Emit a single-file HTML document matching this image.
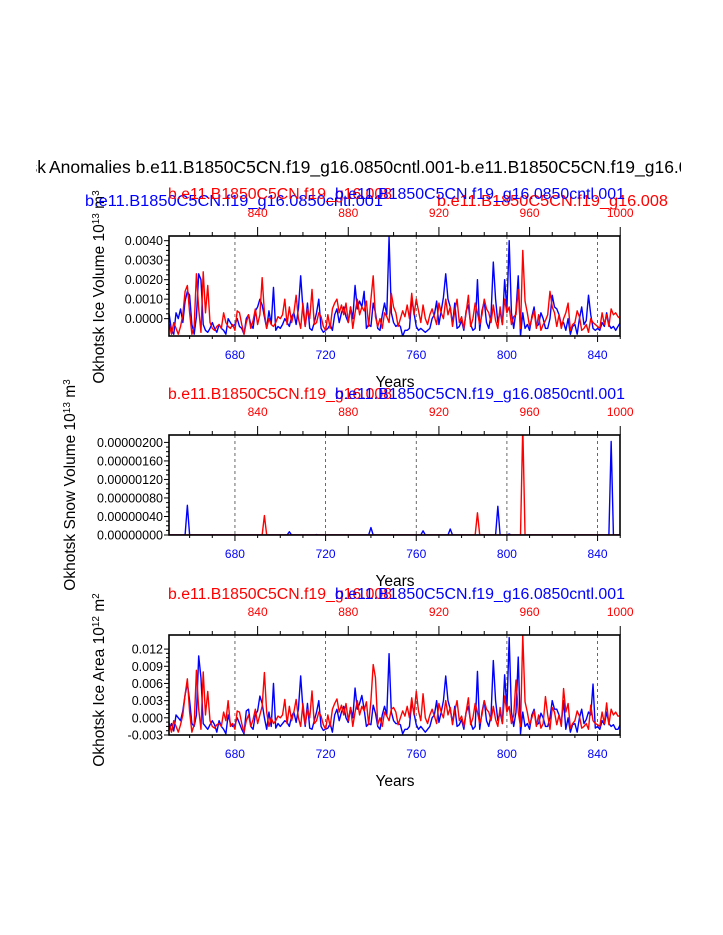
<!DOCTYPE html>
<html><head><meta charset="utf-8"><style>
html,body{margin:0;padding:0;background:#fff;}
svg{display:block;font-family:"Liberation Sans",Arial,sans-serif;}
</style></head><body>
<svg id="chart" width="723" height="935" viewBox="0 0 723 935" xmlns="http://www.w3.org/2000/svg">
<rect width="723" height="935" fill="#fff"/>
<clipPath id="title-clip"><rect x="36" y="140" width="645" height="50"/></clipPath>
<g clip-path="url(#title-clip)">
<text x="46" y="173" font-size="17.5" text-anchor="end">Okhotsk</text>
<text x="49" y="173" font-size="17.5">Anomalies b.e11.B1850C5CN.f19_g16.0850cntl.001-b.e11.B1850C5CN.f19_g16.008</text>
</g>
<g id="panels"></g>
</svg>
<script>
// Years (blue = control, bottom axis; red = experiment, top axis offset by +150)
const blueYears = []; for (let y = 650; y <= 850; y++) blueYears.push(y);
const redOffset = 150;
const bottomTicks = [680, 720, 760, 800, 840];
const topTicks = [840, 880, 920, 960, 1000];

// Ice volume anomalies (x 1e-3, 10^13 m^3)
const iceVolBlue = [
-0.5,0.2,-0.6,-0.8,0.3,0.0,0.5,-0.2,0.9,1.4,
1.2,-0.3,-0.8,0.1,2.3,2.0,-0.3,-0.6,-0.7,-0.5,
-0.2,-0.5,-0.7,-0.3,-0.5,-0.6,-0.8,0.0,-0.2,-0.4,
-0.3,0.0,-0.4,-0.5,-0.8,0.0,0.2,-0.3,-0.5,0.4,
0.6,1.0,0.7,0.1,-0.5,0.4,-0.3,1.6,-0.6,-0.4,
-0.5,-0.3,0.0,-0.2,-0.4,0.1,0.3,-0.3,0.5,2.2,
0.5,-0.4,0.8,-0.5,-0.6,-0.2,0.3,1.0,-0.5,-0.7,
-0.6,-0.5,-0.3,-0.6,0.2,0.5,-0.2,0.3,0.6,0.1,
-0.2,0.6,0.0,1.7,0.5,0.9,0.6,1.4,-0.5,-0.3,
-0.4,0.8,0.3,-0.5,-0.6,0.2,0.8,0.2,4.2,0.3,
-0.2,-0.4,-0.3,-0.4,-0.9,-0.6,-0.6,-0.5,1.0,0.3,
-0.4,-0.6,-0.5,-0.6,-0.7,-0.6,-0.5,0.0,0.2,0.9,
-0.3,0.4,1.1,2.3,1.0,0.6,-0.3,0.8,-0.5,-0.4,
-0.1,-0.6,0.4,0.7,-0.3,-0.6,-0.5,2.0,-0.6,0.4,
0.9,-0.2,-0.5,0.2,2.9,1.0,-0.2,0.4,-0.3,2.0,
0.5,4.0,0.3,-0.5,0.4,2.2,-0.9,0.3,-0.5,-0.3,
-0.6,0.1,0.6,-0.4,-0.3,0.3,0.0,-0.5,-0.5,0.0,
1.2,0.6,0.5,0.2,-0.3,-0.2,-0.6,0.0,-0.8,-0.4,
-0.3,-0.8,0.0,0.6,-0.3,-0.1,1.2,0.2,-0.5,-0.6,
-0.5,-0.6,-0.2,-0.4,0.3,-0.3,-0.5,-0.4,-0.6,-0.4,-0.2];
const iceVolRed = [
-0.6,-0.3,-0.8,-0.2,-0.5,-0.8,-0.4,0.2,1.4,1.7,
0.3,-0.8,-0.4,2.3,0.5,-0.7,2.4,0.3,1.7,-0.2,
-0.5,-0.6,-0.4,-0.3,-0.5,0.3,-0.2,-0.4,-0.5,-0.3,
-0.6,0.4,0.3,-0.3,-0.8,-0.2,0.2,-0.5,-0.1,0.5,
-0.3,0.2,2.1,0.3,-0.5,0.0,-0.3,-0.4,-0.2,0.1,
0.0,0.2,1.0,-0.3,0.6,-0.2,0.3,1.2,0.0,-0.5,
0.8,-0.4,0.5,0.0,1.5,-0.3,-0.2,0.3,0.1,-0.4,
-0.6,0.2,-0.5,0.5,0.8,1.0,0.3,0.7,0.2,0.8,
-0.2,0.6,-0.5,0.3,1.0,0.2,0.6,0.4,0.9,-0.4,
1.0,2.2,0.1,-0.4,0.0,-0.5,0.3,0.1,-0.2,1.3,
0.6,0.3,-0.4,0.0,0.4,0.1,0.7,0.0,1.3,0.2,
1.0,0.4,-0.2,0.7,0.0,-0.3,0.2,0.5,0.1,-0.3,
0.8,0.3,0.0,1.0,0.2,0.6,-0.4,0.4,1.0,-0.2,
0.1,-0.5,0.3,1.2,-0.4,0.0,0.8,0.3,-0.3,0.2,
1.0,0.5,0.3,-0.2,0.7,-0.1,-0.5,0.6,-0.3,1.0,
0.3,0.6,-0.3,0.1,0.2,1.5,-0.5,3.5,0.9,0.3,
-0.4,0.0,0.4,-0.5,0.2,-0.6,-0.3,-0.1,0.2,1.4,
0.6,0.3,-0.4,0.2,-0.5,0.0,0.3,0.8,-0.6,-0.3,
-0.2,0.4,0.1,-0.6,-0.5,-0.3,-0.7,0.0,-0.2,-0.3,
-0.4,-0.5,0.3,-0.3,0.2,-0.4,0.5,0.2,0.3,0.1,0.0];

// Snow volume spikes (x 1e-7, 10^13 m^3); zero elsewhere
const snowBlueYears = [659, 704, 716, 740, 763, 775, 796, 801, 846];
const snowBlueVals  = [6.4, 0.7, 0.1, 1.6, 0.9, 1.3, 6.2, 0.2, 20.2];
const snowRedYears  = [843, 937, 957];   // experiment years (top axis)
const snowRedVals   = [4.2, 4.8, 23.5];

// Ice area anomalies (x 1e-3, 10^12 m^2)
const iceAreaBlue = [
0.0,-2.0,-1.0,-2.3,0.5,0.0,-0.5,1.2,4.0,6.0,
3.0,-1.0,-1.5,0.5,10.8,7.0,-1.0,-1.5,-2.0,-1.2,
-0.5,-1.2,-2.5,-0.5,-1.5,-2.0,-2.8,0.5,-1.0,-1.5,
-1.2,0.0,-1.0,-2.0,-2.8,1.2,1.5,-1.5,-2.0,0.5,
1.2,3.8,2.5,0.0,-2.0,1.0,-1.5,6.0,-1.8,-1.0,
-1.5,-1.0,-0.5,-0.8,-1.5,0.3,1.0,-0.8,1.5,7.3,
1.5,-1.5,2.5,-1.8,-2.0,-0.5,1.0,3.0,-1.5,-2.2,
-2.0,-1.8,-1.0,-2.5,0.5,1.5,-0.5,1.0,2.0,0.0,
-0.8,1.8,0.0,5.2,1.5,2.5,3.9,1.5,-1.5,-1.0,
-1.2,2.2,0.8,-1.5,-2.0,0.5,2.0,0.5,11.2,1.0,
-0.5,-1.0,-1.0,-1.2,-2.8,-2.0,-2.0,-1.5,2.8,0.8,
-1.2,-2.0,-1.5,-2.0,-2.5,-2.0,-1.5,0.0,0.5,3.0,
-0.8,1.0,3.0,7.3,3.0,1.5,-1.0,2.0,-1.5,-1.2,
-0.3,-2.0,1.0,2.0,-0.8,-2.0,-1.5,8.1,-2.0,1.0,
3.0,-0.5,-1.5,0.5,10.0,3.0,-0.5,1.0,-1.0,7.5,
1.5,14.0,1.0,-1.5,1.0,10.6,-2.8,1.0,-1.5,-1.0,
-2.0,0.5,1.5,-1.2,-1.0,0.8,0.0,-1.5,-1.5,0.0,
3.0,1.5,1.5,0.5,-1.0,3.0,-2.0,0.0,-2.5,-1.2,
-1.0,-2.5,0.0,1.5,-1.0,-0.3,1.0,0.5,5.9,-1.8,
-1.5,-2.0,-0.5,-1.2,1.0,-1.0,-1.5,-1.2,-2.0,-2.0,-1.2];
const iceAreaRed = [
-2.5,-1.0,-2.5,-0.5,-1.5,-2.5,-1.2,0.5,4.0,6.8,
1.0,-2.5,-1.2,8.3,1.5,-2.0,8.0,0.5,4.6,-0.5,
-1.5,-1.8,-1.2,-1.0,-1.5,1.0,-0.5,3.0,-1.5,-1.0,
-2.0,1.2,1.0,-1.0,-2.5,-0.5,0.5,-1.5,-0.3,1.5,
-1.0,0.5,2.0,7.9,1.0,-1.5,0.0,-1.0,-0.5,0.3,
0.0,0.5,3.2,-1.0,2.0,-0.5,1.0,3.2,0.0,-1.5,
2.5,-1.2,1.5,0.0,4.7,-1.0,-0.5,1.0,0.3,-1.2,
-2.0,0.5,-1.5,1.5,2.5,3.3,1.0,2.2,0.5,2.5,
-0.5,1.8,-1.5,1.0,3.0,0.5,2.0,1.2,2.8,-1.2,
3.0,9.3,7.0,-1.2,0.0,-1.5,1.0,0.3,-0.5,1.5,
1.8,1.0,-1.2,0.0,1.2,0.3,2.0,0.0,3.5,0.5,
4.6,1.2,-0.5,4.2,0.0,-1.0,0.5,1.5,0.3,-1.0,
2.5,1.0,0.0,3.0,0.5,1.8,-1.2,1.2,3.0,-0.5,
0.3,-1.5,1.0,3.5,-1.2,0.0,2.5,1.0,-1.0,0.5,
3.0,1.5,1.0,-0.5,2.0,-0.3,-1.5,1.8,-1.0,3.8,
1.0,2.0,-1.0,0.5,6.6,1.0,-1.5,14.5,2.8,1.0,
-1.2,0.0,1.2,-1.5,0.5,-1.8,-1.0,3.7,0.5,-2.0,
1.8,1.0,-1.2,0.5,-1.5,5.1,1.0,2.5,-1.8,-1.0,
-0.5,1.2,0.3,-1.8,-1.5,-1.0,-2.0,2.2,-0.5,-1.0,
-1.2,-1.5,1.0,-1.0,2.6,-1.2,1.5,0.5,1.0,0.3,0.3];

const volTicks = [0, 1, 2, 3, 4];
const volTickLabels = ["0.0000","0.0010","0.0020","0.0030","0.0040"];
const snowTicks = [0, 4, 8, 12, 16, 20];
const snowTickLabels = ["0.00000000","0.00000040","0.00000080","0.00000120","0.00000160","0.00000200"];
const areaTicks = [-3, 0, 3, 6, 9, 12];
const areaTickLabels = ["-0.003","0.000","0.003","0.006","0.009","0.012"];

const NS = "http://www.w3.org/2000/svg";
const root = document.getElementById("panels");
function el(tag, attrs, parent) {
  const e = document.createElementNS(NS, tag);
  for (const k in attrs) e.setAttribute(k, attrs[k]);
  (parent || root).appendChild(e);
  return e;
}
const X0 = 169, X1 = 620, YR0 = 650.9, YR1 = 849.9;
function xScale(yr) { return X0 + (yr - YR0) / (YR1 - YR0) * (X1 - X0); }

function panel(cfg) {
  const g = el("g", {});
  
  
  const yS = v => cfg.bot - (v - cfg.vmin) / (cfg.vmax - cfg.vmin) * (cfg.bot - cfg.top);
  const cid = "clip-" + cfg.name;
  const cp = el("clipPath", { id: cid }, g);
  el("rect", { x: X0, y: cfg.top, width: X1 - X0, height: cfg.bot - cfg.top }, cp);
  bottomTicks.forEach(t => {
    const l = el("line", { x1: xScale(t), x2: xScale(t), y1: cfg.top, y2: cfg.bot, stroke: "#444", "stroke-width": 0.8, "stroke-dasharray": "3,3" }, g);
    
    
  });
  const sg = el("g", { "clip-path": "url(#" + cid + ")" }, g);
  cfg.series.forEach(s => {
    let d = "";
    s.vals.forEach((v, i) => { d += (i ? "L" : "M") + xScale(s.years[i]).toFixed(2) + "," + yS(v).toFixed(2); });
    const p = el("path", { d: d, fill: "none", stroke: s.color, "stroke-width": 1.4, "stroke-linejoin": "round" }, sg);
    
    
  });
  const box = el("rect", { x: X0, y: cfg.top, width: X1 - X0, height: cfg.bot - cfg.top, fill: "none", stroke: "#000", "stroke-width": 1.6 }, g);
  
  
  for (let yr = 660; yr <= 850; yr += 10) {
    const maj = bottomTicks.includes(yr);
    el("line", { x1: xScale(yr), x2: xScale(yr), y1: cfg.bot, y2: cfg.bot + (maj ? 6 : 3), stroke: "#000", "stroke-width": 1 }, g);
  }
  bottomTicks.forEach(t => {
    const tx = el("text", { x: xScale(t), y: cfg.bot + 23, "font-size": 12, fill: "#0000ff", "text-anchor": "middle" }, g);
    tx.textContent = t;
    
    
  });
  for (let yr = 810; yr <= 1000; yr += 10) {
    const maj = topTicks.includes(yr);
    const xx = xScale(yr - redOffset);
    el("line", { x1: xx, x2: xx, y1: cfg.top, y2: cfg.top - (maj ? 9 : 4), stroke: "#000", "stroke-width": 1 }, g);
  }
  topTicks.forEach(t => {
    const tx = el("text", { x: xScale(t - redOffset), y: cfg.top - 19, "font-size": 12, fill: "#ff0000", "text-anchor": "middle" }, g);
    tx.textContent = t;
    
    
  });
  cfg.ticks.forEach((t, i) => {
    el("line", { x1: X0, x2: X0 - 5, y1: yS(t), y2: yS(t), stroke: "#000", "stroke-width": 1 }, g);
    const tx = el("text", { x: X0 - 6, y: yS(t) + 4.5, "font-size": 12.5, "text-anchor": "end" }, g);
    tx.textContent = cfg.labels[i];
    
    
  });
  for (let i = 0; i + 1 < cfg.ticks.length; i++) {
    const step = (cfg.ticks[i + 1] - cfg.ticks[i]) / 4;
    for (let k = 1; k < 4; k++) {
      const v = cfg.ticks[i] + step * k;
      el("line", { x1: X0, x2: X0 - 3, y1: yS(v), y2: yS(v), stroke: "#000", "stroke-width": 1 }, g);
    }
  }
  const xt = el("text", { x: 395, y: cfg.bot + 51, "font-size": 15.5, "text-anchor": "middle" }, g);
  xt.textContent = "Years";
  
  
  const yt = el("text", { transform: "translate(" + cfg.ytx + "," + cfg.ytY + ") rotate(-90)", "font-size": 15.5, "text-anchor": "middle" }, g);
  yt.innerHTML = cfg.ytitle;
  
  
  cfg.subs.forEach(s => {
    const t = el("text", { x: s.x, y: s.y, "font-size": 15.5, fill: s.c, textLength: s.w, lengthAdjust: "spacingAndGlyphs" }, g);
    t.textContent = s.t;
    
    
  });
}
const B = "b.e11.B1850C5CN.f19_g16.0850cntl.001", R = "b.e11.B1850C5CN.f19_g16.008";
const redYears = blueYears.slice();
function spikes(years, vals, shift) {
  const out = blueYears.map(() => 0);
  years.forEach((y, i) => { const idx = y - shift - 650; if (idx >= 0 && idx < out.length) out[idx] = vals[i]; });
  return out;
}
panel({ name: "ice-volume-panel", top: 236, bot: 336, vmin: -0.89, vmax: 4.24,
  ticks: volTicks, labels: volTickLabels,
  ytitle: 'Okhotsk Ice Volume 10<tspan baseline-shift="super" font-size="10">13</tspan> m<tspan baseline-shift="super" font-size="10">3</tspan>', ytx: 104, ytY: 287,
  series: [{ name: "ice-volume-control-line", color: "#0000ff", years: blueYears, vals: iceVolBlue },
           { name: "ice-volume-experiment-line", color: "#ff0000", years: redYears, vals: iceVolRed }],
  subs: [{ x: 85, y: 206, t: B, c: "#0000ff", w: 298, n: "control-subtitle-left" },
         { x: 437, y: 206, t: R, c: "#ff0000", w: 231, n: "experiment-subtitle-right" },
         { x: 168, y: 199, t: R, c: "#ff0000", w: 224, n: "experiment-subtitle" },
         { x: 335, y: 199, t: B, c: "#0000ff", w: 290, n: "control-subtitle" }] });
panel({ name: "snow-volume-panel", top: 435, bot: 535, vmin: 0, vmax: 21.6,
  ticks: snowTicks, labels: snowTickLabels,
  ytitle: 'Okhotsk Snow Volume 10<tspan baseline-shift="super" font-size="10">13</tspan> m<tspan baseline-shift="super" font-size="10">3</tspan>', ytx: 75, ytY: 485,
  series: [{ name: "snow-volume-control-line", color: "#0000ff", years: blueYears, vals: spikes(snowBlueYears, snowBlueVals, 0) },
           { name: "snow-volume-experiment-line", color: "#ff0000", years: redYears, vals: spikes(snowRedYears, snowRedVals, redOffset) }],
  subs: [{ x: 168, y: 399, t: R, c: "#ff0000", w: 224, n: "experiment-subtitle" },
         { x: 335, y: 399, t: B, c: "#0000ff", w: 290, n: "control-subtitle" }] });
panel({ name: "ice-area-panel", top: 635, bot: 735, vmin: -3, vmax: 14.46,
  ticks: areaTicks, labels: areaTickLabels,
  ytitle: 'Okhotsk Ice Area 10<tspan baseline-shift="super" font-size="10">12</tspan> m<tspan baseline-shift="super" font-size="10">2</tspan>', ytx: 104, ytY: 680,
  series: [{ name: "ice-area-control-line", color: "#0000ff", years: blueYears, vals: iceAreaBlue },
           { name: "ice-area-experiment-line", color: "#ff0000", years: redYears, vals: iceAreaRed }],
  subs: [{ x: 168, y: 599, t: R, c: "#ff0000", w: 224, n: "experiment-subtitle" },
         { x: 335, y: 599, t: B, c: "#0000ff", w: 290, n: "control-subtitle" }] });
</script>
</body></html>
